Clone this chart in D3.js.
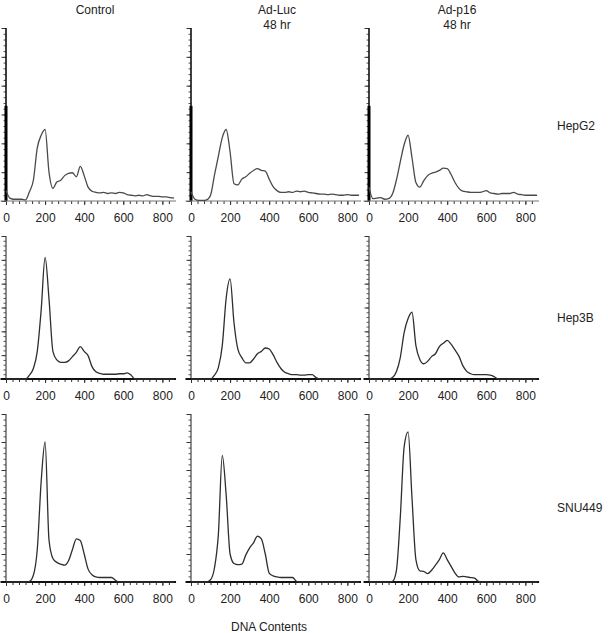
<!DOCTYPE html>
<html>
<head>
<meta charset="utf-8">
<script src="https://cdn.jsdelivr.net/npm/d3@7"></script>
<style>
  body { margin: 0; background: #fff; }
  svg text { font-family: "Liberation Sans", Arial, sans-serif; fill: #222; }
</style>
</head>
<body>
<svg id="chart"></svg>
<script>
// DNA content channels (x), counts
var channels = [0,20,40,60,80,100,120,140,160,180,200,220,240,260,280,300,320,340,360,380,400,420,
                440,460,480,500,520,540,560,580,600,620,640,660,680,700,720,740,760,780,800,820,840,860];

var treatments = ["Control", "Ad-Luc", "Ad-p16"];
var treatmentTimes = ["", "48 hr", "48 hr"];
var cellLines = ["HepG2", "Hep3B", "SNU449"];
var xTickLabels = [0, 200, 400, 600, 800];
var xTitle = "DNA Contents";

var hepg2Control = [18,5,3,3,3,2,16,36,92,114,124,50,22,33,36,44,48,49,42,60,44,24,17,15,14,15,13,14,13,15,14,11,10,9,10,9,11,9,8,8,7,7,6,5];
var hepg2AdLuc   = [16,3,1,1,2,10,45,78,110,124,85,30,28,38,42,48,53,56,53,52,38,25,18,15,15,16,15,17,16,17,15,14,13,12,12,11,12,11,10,10,11,10,10,10];
var hepg2AdP16   = [24,4,5,6,3,4,12,36,68,98,114,75,32,24,35,44,48,50,53,57,56,46,32,22,17,16,15,15,15,16,18,14,13,12,13,13,13,15,12,11,10,10,10,10];

var hep3bControl = [0,0,0,0,0,0,8,22,58,145,255,168,58,40,35,35,38,47,56,68,58,49,26,15,12,10,10,10,10,11,11,13,8,0,0,0,0,0,0,0,0,0,0,0];
var hep3bAdLuc   = [0,0,0,0,0,0,8,24,70,170,210,118,62,45,34,34,42,53,58,65,63,51,35,22,14,11,9,9,8,8,9,9,3,0,0,0,0,0,0,0,0,0,0,0];
var hep3bAdP16   = [0,0,0,0,0,0,3,15,45,98,127,140,70,41,32,37,47,53,68,75,81,73,61,48,28,16,11,9,9,9,9,8,5,0,0,0,0,0,0,0,0,0,0,0];

var snu449Control = [0,0,0,0,0,0,1,12,58,180,250,75,42,35,32,30,38,58,77,74,50,23,13,9,8,8,8,8,3,0,0,0,0,0,0,0,0,0,0,0,0,0,0,0];
var snu449AdLuc   = [0,0,0,0,0,4,25,85,226,155,50,33,31,32,48,61,70,82,77,50,16,11,9,8,8,8,8,1,0,0,0,0,0,0,0,0,0,0,0,0,0,0,0,0];
var snu449AdP16   = [0,0,0,0,0,0,1,20,115,242,268,150,40,20,19,15,21,30,40,52,40,28,16,9,10,9,8,7,1,0,0,0,0,0,0,0,0,0,0,0,0,0,0,0];

var counts = [
  [hepg2Control, hepg2AdLuc, hepg2AdP16],
  [hep3bControl, hep3bAdLuc, hep3bAdP16],
  [snu449Control, snu449AdLuc, snu449AdP16]
];

var width = 608;
var height = 633;

var svg = d3.select("#chart")
            .attr("width", width)
            .attr("height", height);

// panel placement
var colLeft = [6, 191, 369];
var rowTop = [28, 236, 414];
var rowBottom = [201, 379, 582];
var plotW = 172;

counts.forEach(function(row, r){
  row.forEach(function(vals, c){

    var xScale = d3.scaleLinear()
                   .domain([0, 880])
                   .range([colLeft[c], colLeft[c] + plotW]);

    var yScale = d3.scaleLinear()
                   .domain([0, 300])
                   .range([rowBottom[r], rowTop[r]]);

    var g = svg.append("g");

    // y axis: minor and major ticks, no labels
    g.append("g")
     .attr("transform", "translate(" + colLeft[c] + ",0)")
     .call(d3.axisLeft(yScale).tickValues(d3.range(0, 301, 10)).tickSize(2.5).tickFormat(""))
     .call(function(a){ a.select(".domain").remove(); })
     .selectAll("line").attr("stroke", "#555");

    g.append("g")
     .attr("transform", "translate(" + colLeft[c] + ",0)")
     .call(d3.axisLeft(yScale).tickValues(d3.range(0, 301, 50)).tickSize(4.5).tickFormat(""))
     .call(function(a){ a.select(".domain").remove(); })
     .selectAll("line").attr("stroke", "#333");

    g.append("line")
     .attr("x1", colLeft[c]).attr("x2", colLeft[c])
     .attr("y1", yScale(0)).attr("y2", yScale(300))
     .attr("stroke", r == 0 ? "#111" : "#444")
     .attr("stroke-width", r == 0 ? 1.6 : 1.2);

    if (r == 0) {
      g.append("line")
       .attr("x1", colLeft[c]).attr("x2", colLeft[c])
       .attr("y1", yScale(0)).attr("y2", yScale(165))
       .attr("stroke", "#000")
       .attr("stroke-width", 3);
    }

    // x axis: minor ticks then labelled ticks
    g.append("g")
     .attr("transform", "translate(0," + rowBottom[r] + ")")
     .call(d3.axisBottom(xScale).tickValues(d3.range(0, 861, 200 / 6)).tickSize(3).tickFormat(""))
     .call(function(a){ a.select(".domain").remove(); })
     .selectAll("line").attr("stroke", "#333");

    var xAxis = g.append("g")
     .attr("transform", "translate(0," + rowBottom[r] + ")")
     .call(d3.axisBottom(xScale).tickValues(xTickLabels).tickSize(4).tickPadding(8));
    xAxis.select(".domain").remove();
    xAxis.selectAll("line").attr("stroke", "#333");
    xAxis.selectAll("text")
         .attr("font-size", "12px")
         .attr("font-family", "Liberation Sans, Arial, sans-serif")
         .attr("fill", "#222");

    g.append("line")
     .attr("x1", xScale(-28)).attr("x2", xScale(870))
     .attr("y1", rowBottom[r]).attr("y2", rowBottom[r])
     .attr("stroke", r == 0 ? "#777" : "#111")
     .attr("stroke-width", r == 0 ? 1 : 1.8);

    // histogram trace
    var line = d3.line()
                 .curve(d3.curveMonotoneX)
                 .x(function(d, i){ return xScale(channels[i]); })
                 .y(function(d){ return yScale(d); });

    g.append("path")
     .datum(vals)
     .attr("d", line)
     .attr("fill", "none")
     .attr("stroke", r == 0 ? "#4a4a4a" : "#2e2e2e")
     .attr("stroke-width", 1.3)
     .attr("stroke-linejoin", "round");
  });
});

// column titles
var titleX = [95, 277, 457];
treatments.forEach(function(t, i){
  svg.append("text")
     .attr("x", titleX[i]).attr("y", 14)
     .attr("text-anchor", "middle")
     .attr("font-size", "12px")
     .text(t);
  if (treatmentTimes[i] != "") {
    svg.append("text")
       .attr("x", titleX[i]).attr("y", 29)
       .attr("text-anchor", "middle")
       .attr("font-size", "12px")
       .text(treatmentTimes[i]);
  }
});

// row labels
var labelY = [130, 322, 512];
cellLines.forEach(function(name, i){
  svg.append("text")
     .attr("x", 557).attr("y", labelY[i])
     .attr("font-size", "12px")
     .text(name);
});

svg.append("text")
   .attr("x", 269).attr("y", 631)
   .attr("text-anchor", "middle")
   .attr("font-size", "12px")
   .text(xTitle);
</script>
</body>
</html>
